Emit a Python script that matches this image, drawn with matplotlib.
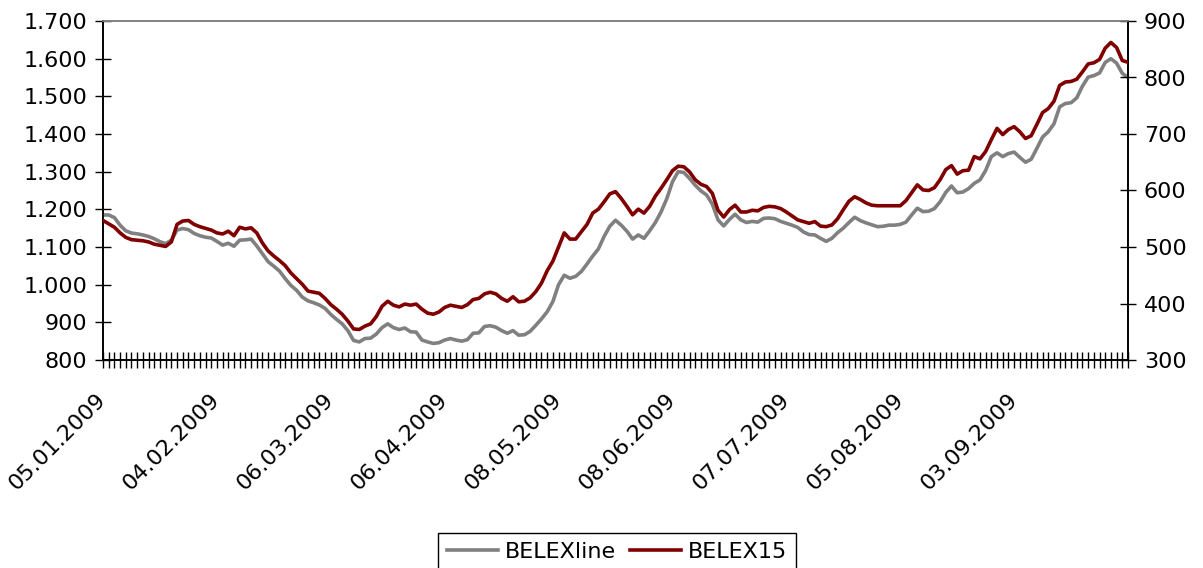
import matplotlib
matplotlib.use('Agg')
import matplotlib.pyplot as plt
from matplotlib.ticker import FuncFormatter

# daily closes, 05.01.2009 - end of September 2009
belexline = [
    1185, 1185, 1178, 1158, 1143, 1137, 1135, 1132, 1128, 1122,
    1114, 1109, 1118, 1145, 1149, 1146, 1136, 1130, 1126, 1124,
    1115, 1105, 1110, 1102, 1118, 1119, 1121, 1103, 1082, 1061,
    1049, 1036, 1016, 998, 985, 967, 957, 952, 946, 937,
    921, 908, 896, 878, 852, 848, 857, 858, 869, 886,
    896, 886, 881, 885, 875, 874, 853, 848, 844, 846,
    853, 857, 853, 850, 854, 871, 872, 889, 891, 887,
    878, 871, 878, 866, 867, 876, 892, 909, 928, 955,
    1000, 1025, 1017, 1022, 1035, 1055, 1076, 1095, 1128, 1155,
    1171, 1158, 1142, 1121, 1132, 1123, 1143, 1165, 1193, 1228,
    1273, 1300, 1298, 1282, 1264, 1249, 1238, 1214, 1172, 1156,
    1173, 1187, 1172, 1165, 1168, 1166, 1176, 1177, 1175, 1168,
    1163, 1158, 1152, 1140, 1133, 1132, 1123, 1115, 1123, 1138,
    1150, 1165, 1179, 1170, 1164, 1159, 1154, 1155, 1158, 1158,
    1160, 1166, 1185, 1203, 1194, 1195, 1202, 1220, 1245, 1262,
    1244, 1246, 1255, 1269, 1278, 1303, 1340, 1350, 1340, 1348,
    1352, 1338, 1325, 1333, 1362, 1392, 1406, 1427, 1472, 1481,
    1483, 1496, 1527, 1551, 1555, 1562, 1590, 1600, 1588, 1561,
    1550,
]

belex15 = [
    547, 541, 535, 525, 517, 513, 512, 511, 509, 505,
    503, 501, 509, 540, 546, 547, 540, 536, 533, 530,
    525, 523, 528, 520, 535, 532, 534, 525, 507, 493,
    484, 476, 467, 454, 444, 434, 422, 420, 418, 409,
    398, 390, 381, 369, 355, 354, 360, 364, 377, 395,
    404, 397, 394, 399, 397, 399, 390, 383, 381, 385,
    393, 397, 395, 393, 398, 407, 409, 417, 420, 417,
    409, 404, 412, 403, 404, 410, 421, 436, 458, 475,
    500, 525, 514, 514, 527, 540, 560, 567, 580, 594,
    598, 586, 572, 557, 567, 560, 572, 590, 604, 619,
    635, 643, 642, 633, 619, 611, 607, 595, 565, 553,
    566, 574, 562, 562, 565, 564, 570, 572, 571, 568,
    562, 555, 548, 545, 542, 545, 537, 536, 539, 550,
    566, 581, 589, 584, 578, 574, 573, 573, 573, 573,
    573, 582, 596, 610, 601, 600, 605, 619, 637, 644,
    629, 635, 636, 660, 656, 669, 690, 710, 699, 708,
    713, 704, 692, 697, 717, 738, 745, 758, 786, 792,
    793, 797, 810, 824, 826, 832, 852, 862, 853, 830,
    827,
]

date_labels = ['05.01.2009', '04.02.2009', '06.03.2009', '06.04.2009',
               '08.05.2009', '08.06.2009', '07.07.2009', '05.08.2009',
               '03.09.2009']
label_step = 20

GRAY = '#808080'
RED = '#800000'
FS = 16

plt.rcParams['font.family'] = ['DejaVu Sans']

fig = plt.figure(figsize=(12.03, 5.68), dpi=100)
ax = fig.add_axes([103/1203, 1 - 360/568, (1128 - 103)/1203, (360 - 21)/568])
ax2 = ax.twinx()

n = len(belexline)
xs = list(range(n))
l1, = ax.plot(xs, belexline, color=GRAY, lw=2.6, label='BELEXline', zorder=3)
l2, = ax2.plot(xs, belex15, color=RED, lw=2.6, label='BELEX15', zorder=3)

ax.set_xlim(0, n - 1)
ax.set_ylim(800, 1700)
ax2.set_ylim(300, 900)
ax.set_yticks(range(800, 1701, 100))
ax2.set_yticks(range(300, 901, 100))

fmt = FuncFormatter(lambda v, p: f'{v:,.0f}'.replace(',', '.'))
ax.yaxis.set_major_formatter(fmt)
ax2.yaxis.set_major_formatter(fmt)

ax.set_xticks(xs)
labels = ['' for _ in xs]
for k, s in enumerate(date_labels):
    labels[k * label_step] = s
ax.set_xticklabels(labels, rotation=45, ha='right', va='center',
                   rotation_mode='anchor')

ax.tick_params(axis='x', direction='inout', length=11, width=1,
               labelsize=FS, pad=21)
ax.tick_params(axis='y', direction='inout', length=11, width=1,
               labelsize=FS, pad=6)
ax2.tick_params(axis='y', direction='inout', length=11, width=1,
                labelsize=FS, pad=6)

for a in (ax, ax2):
    for side in ('left', 'right', 'bottom'):
        a.spines[side].set_color('black')
        a.spines[side].set_linewidth(1.2)
    a.spines['top'].set_color(GRAY)
    a.spines['top'].set_linewidth(1.2)

leg = fig.legend([l1, l2], ['BELEXline', 'BELEX15'], loc='upper center',
                 bbox_to_anchor=(617/1203, 1 - 533/568), ncol=2,
                 fontsize=FS, frameon=True, fancybox=False, framealpha=1,
                 edgecolor='black', handlelength=2.3, handletextpad=0.3,
                 columnspacing=0.6, borderpad=0.4, borderaxespad=0)
leg.get_frame().set_linewidth(1)

fig.savefig('out.png', dpi=100)
